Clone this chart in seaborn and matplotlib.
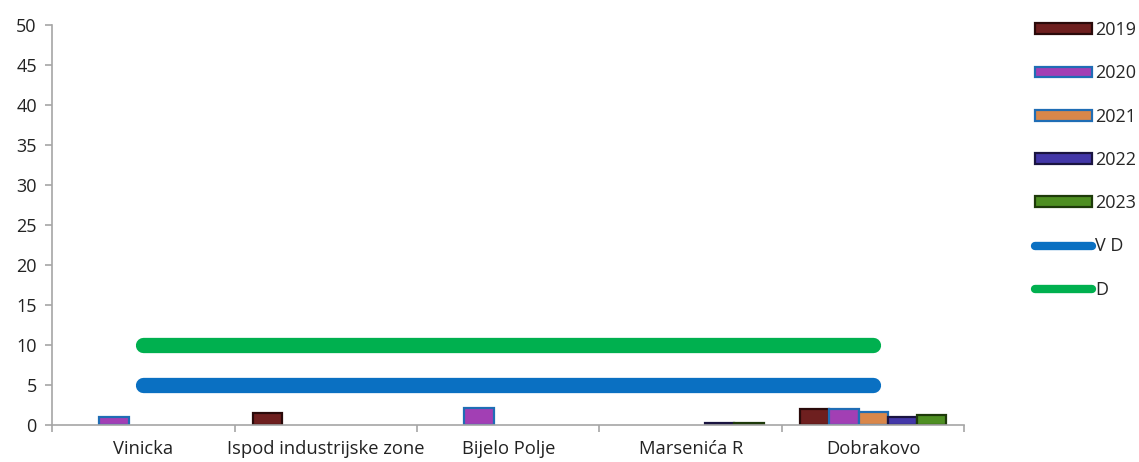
import matplotlib
matplotlib.use("Agg")
import matplotlib.pyplot as plt
from matplotlib.patches import Patch
from matplotlib.lines import Line2D
import numpy as np
import pandas as pd
import seaborn as sns

sites = ["Vinicka", "Ispod industrijske zone", "Bijelo Polje", "Marsenića R", "Dobrakovo"]
years = ["2019", "2020", "2021", "2022", "2023"]
v2019 = [0.0, 1.5, 0.0, 0.0, 2.0]
v2020 = [1.0, 0.0, 2.1, 0.0, 2.0]
v2021 = [0.0, 0.0, 0.0, 0.0, 1.6]
v2022 = [0.0, 0.0, 0.0, 0.3, 1.0]
v2023 = [0.0, 0.0, 0.0, 0.2, 1.2]
limit_vd = [5, 5, 5, 5, 5]
limit_d = [10, 10, 10, 10, 10]

face = ["#6e1f1f", "#a23fb4", "#d9874a", "#4337a8", "#4e8f22"]
edge = ["#2a0a0a", "#1f6db5", "#1f6db5", "#1a1440", "#1e3a0a"]
vd_color = "#0a70c2"
d_color = "#00b04f"

sns.set_theme(style="white")
plt.rcParams["font.family"] = ["Open Sans", "DejaVu Sans"]

rows = []
for yr, vals in zip(years, [v2019, v2020, v2021, v2022, v2023]):
    for s, v in zip(sites, vals):
        rows.append({"site": s, "year": yr, "value": v})
df = pd.DataFrame(rows)

fig = plt.figure(figsize=(11.39, 4.62), dpi=100)
fig.patch.set_facecolor("white")
ax = fig.add_axes([0.0457, 0.08, 0.801, 0.866])

sns.barplot(data=df, x="site", y="value", hue="year", order=sites, hue_order=years,
            palette=face, width=0.8, gap=0, ax=ax, legend=False, saturation=1)

# color each bar's edge by its year; empty bars get no outline
for i, cont in enumerate(ax.containers):
    for bar in cont:
        bar.set_edgecolor(edge[i])
        bar.set_linewidth(1.6 if bar.get_height() > 0 else 0)

x = np.arange(len(sites))
ax.plot(x, limit_vd, color=vd_color, lw=11, solid_capstyle="round", zorder=3)
ax.plot(x, limit_d, color=d_color, lw=11, solid_capstyle="round", zorder=3)

ax.set_xlim(-0.5, len(sites) - 0.5)
ax.set_ylim(0, 50)
ax.set_yticks(range(0, 51, 5))
ax.set_xlabel("")
ax.set_ylabel("")

for side in ["top", "right"]:
    ax.spines[side].set_visible(False)
for side in ["left", "bottom"]:
    ax.spines[side].set_color("#a6a6a6")
    ax.spines[side].set_linewidth(1.2)

ax.set_xticks(x)
ax.set_xticks(np.arange(-0.5, len(sites)), minor=True)
ax.tick_params(axis="x", which="major", length=0, labelsize=13.2, colors="#222222", pad=11)
ax.tick_params(axis="x", which="minor", length=5, color="#a6a6a6", width=1.2, direction="out", bottom=True)
ax.tick_params(axis="y", length=5, color="#a6a6a6", width=1.2, direction="out", left=True,
               labelsize=13, labelcolor="#222222", pad=6)

handles = [Patch(facecolor=face[i], edgecolor=edge[i], linewidth=1.6, label=years[i]) for i in range(5)]
handles += [Line2D([0], [0], color=vd_color, lw=6, solid_capstyle="round", label="V D"),
            Line2D([0], [0], color=d_color, lw=6, solid_capstyle="round", label="D")]
leg = fig.legend(handles=handles, loc="upper left", bbox_to_anchor=(0.902, 0.97),
                 frameon=False, fontsize=13, handlelength=3.2, handleheight=0.55,
                 handletextpad=0.15, labelspacing=1.4, borderaxespad=0)

fig.savefig("out.png", dpi=100, facecolor="white")
